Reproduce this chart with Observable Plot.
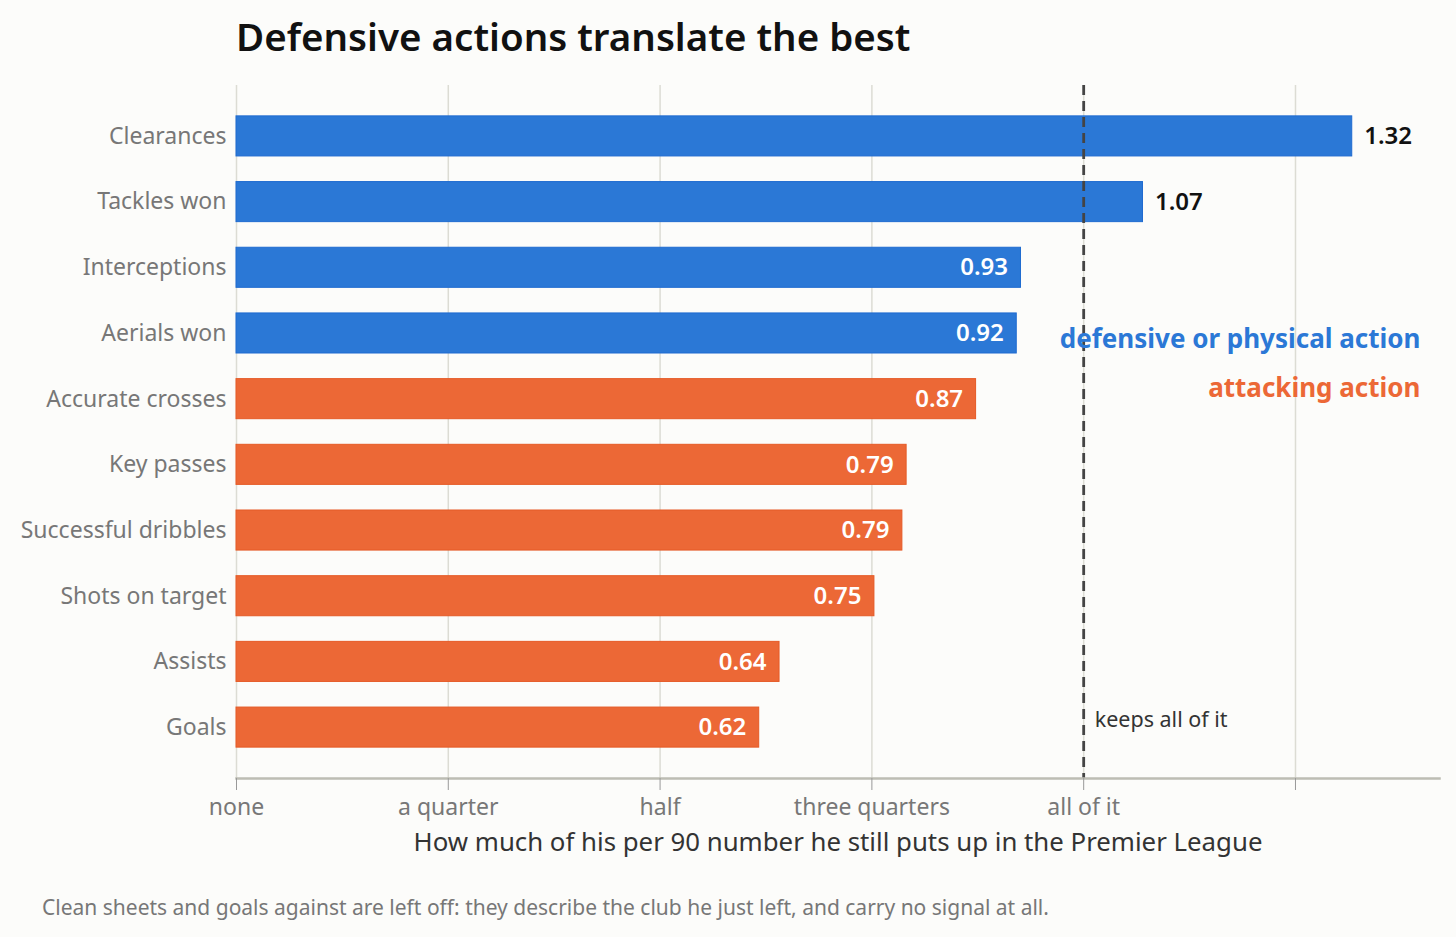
<!DOCTYPE html>
<html>
<head>
<meta charset="utf-8">
<script src="https://cdn.jsdelivr.net/npm/d3@7"></script>
<script src="https://cdn.jsdelivr.net/npm/@observablehq/plot@0.6"></script>
<style>
  html, body { margin: 0; padding: 0; background: #fcfcfa; }
  body { width: 1456px; height: 937px; position: relative; overflow: hidden; font-family: "Segoe UI", "Noto Sans", sans-serif; }
  #title { position: absolute; left: 236px; top: 10px; font-size: 38.5px; font-weight: 600; color: #111; }
  #chart { position: absolute; left: 0; top: 0; }
  #caption { position: absolute; left: 42px; top: 893px; font-size: 21px; color: #777; }
</style>
</head>
<body>
<div id="chart"></div>
<div id="title">Defensive actions translate the best</div>
<div id="caption">Clean sheets and goals against are left off: they describe the club he just left, and carry no signal at all.</div>
<script>
const categories = ["Clearances", "Tackles won", "Interceptions", "Aerials won", "Accurate crosses", "Key passes", "Successful dribbles", "Shots on target", "Assists", "Goals"];
const values = [1.317, 1.07, 0.926, 0.921, 0.873, 0.791, 0.786, 0.753, 0.641, 0.617];
const groups = ["defensive", "defensive", "defensive", "defensive", "attacking", "attacking", "attacking", "attacking", "attacking", "attacking"];
const tickValues = [0, 0.25, 0.5, 0.75, 1, 1.25];
const tickLabels = ["none", "a quarter", "half", "three quarters", "all of it", ""];

const data = categories.map((name, i) => ({ name, value: values[i], group: groups[i] }));
const fillOf = { defensive: "#2b78d6", attacking: "#ec6836" };
const strokeOf = { defensive: "#1f6bd0", attacking: "#e55a26" };
const font = '"Segoe UI", "Noto Sans", sans-serif';

const chart = Plot.plot({
  width: 1456,
  height: 870,
  marginLeft: 236,
  marginRight: 17,
  marginTop: 85,
  marginBottom: 92,
  style: { background: "transparent", fontFamily: font },
  x: { domain: [0, 1.42] },
  y: { domain: categories, paddingInner: 0.39, paddingOuter: 0.47, round: false },
  marks: [
    Plot.gridX({ ticks: tickValues, stroke: "#dcdcd4", strokeOpacity: 1, strokeWidth: 1.5 }),
    Plot.barX(data, { x: "value", y: "name", fill: d => fillOf[d.group], stroke: d => strokeOf[d.group], strokeWidth: 1 }),
    Plot.ruleX([1], { stroke: "#444", strokeWidth: 2.8, strokeDasharray: "10,6" }),
    Plot.frame({ anchor: "bottom", stroke: "#bdbdb3", strokeWidth: 2.5 }),
    Plot.axisX({ ticks: tickValues, tickFormat: d => tickLabels[tickValues.indexOf(d)], tickSize: 12, tickPadding: 8, fontSize: 23, fill: "#777", stroke: "#999", label: null }),
    Plot.axisY({ tickSize: 0, tickPadding: 10, fontSize: 23, fill: "#777", label: null }),
    Plot.text(data.filter(d => d.value < 1), { x: "value", y: "name", text: d => d.value.toFixed(2), dx: -13, textAnchor: "end", fill: "white", fontSize: 24, fontWeight: 600 }),
    Plot.text(data.filter(d => d.value >= 1), { x: "value", y: "name", text: d => d.value.toFixed(2), dx: 12, textAnchor: "start", fill: "#111", fontSize: 24, fontWeight: 600 }),
    Plot.text([{ x: 1, y: "Goals" }], { x: "x", y: "y", text: () => "keeps all of it", dx: 11, dy: -7, textAnchor: "start", fill: "#333", fontSize: 21.5 }),
    Plot.text(["defensive or physical action"], { frameAnchor: "top-right", dx: -19, dy: 254, textAnchor: "end", fill: "#2b78d6", fontSize: 26, fontWeight: 700, lineAnchor: "middle" }),
    Plot.text(["attacking action"], { frameAnchor: "top-right", dx: -19, dy: 303, textAnchor: "end", fill: "#ec6836", fontSize: 26, fontWeight: 700, lineAnchor: "middle" }),
    Plot.text(["How much of his per 90 number he still puts up in the Premier League"], { frameAnchor: "bottom", dy: 64, fill: "#333", fontSize: 25.8, lineAnchor: "middle" })
  ]
});
document.getElementById("chart").appendChild(chart);
</script>
</body>
</html>
